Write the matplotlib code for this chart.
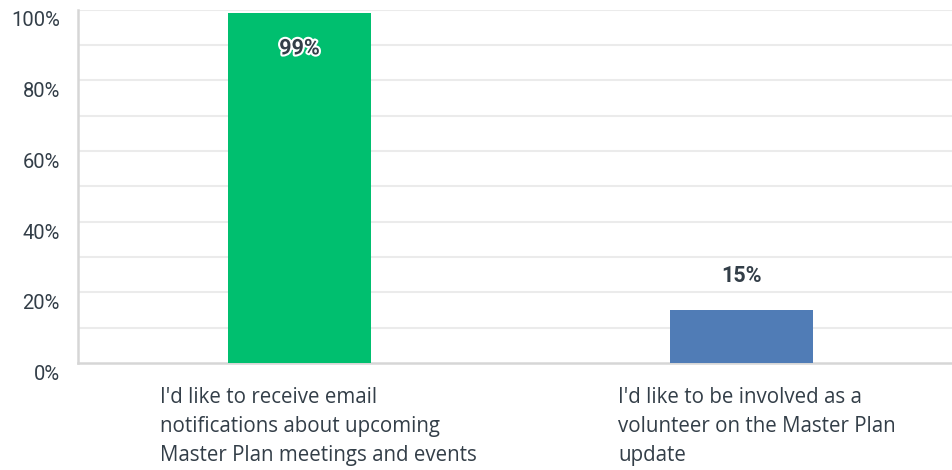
import matplotlib.pyplot as plt
import matplotlib.patheffects as pe
from matplotlib.transforms import blended_transform_factory

categories = [
    "I'd like to receive email\nnotifications about upcoming\nMaster Plan meetings and events",
    "I'd like to be involved as a\nvolunteer on the Master Plan\nupdate",
]
values = [99, 15]
labels = ["99%", "15%"]
bar_colors = ["#00bf6f", "#507cb6"]
yticks = [0, 20, 40, 60, 80, 100]
ytick_labels = ["0%", "20%", "40%", "60%", "80%", "100%"]

text_color = "#333e48"
grid_color = "#ebebeb"
axis_color = "#d6d6d6"

fig = plt.figure(figsize=(9.53, 4.70), dpi=100)
ax = fig.add_axes([78 / 953, 1 - 363 / 470, (953 - 78) / 953, (363 - 9.5) / 470])

x = list(range(len(values)))
ax.bar(x, values, width=0.324, color=bar_colors, zorder=3)

ax.set_xlim(-0.501, 1.479)
ax.set_ylim(0, 100)

for g in range(10, 101, 10):
    ax.axhline(g, color=grid_color, lw=1.5, zorder=1)

ax.set_yticks(yticks)
ax.set_yticklabels(ytick_labels, fontfamily="Roboto", fontsize=14.5, color=text_color,
                   va="top")
ax.tick_params(axis="y", length=0, pad=13)
ax.set_xticks([])
# nudge tick labels a bit below their gridline
for t in ax.get_yticklabels():
    t.set_transform(t.get_transform() + plt.matplotlib.transforms.ScaledTranslation(0, -2 / 100, fig.dpi_scale_trans))

for s in ["top", "right"]:
    ax.spines[s].set_visible(False)
ax.spines["left"].set_color(axis_color)
ax.spines["left"].set_linewidth(1.8)
ax.spines["bottom"].set_color(axis_color)
ax.spines["bottom"].set_linewidth(1.8)

# value labels
ax.text(0, values[0] - 10, labels[0], ha="center", va="center", fontfamily="Roboto",
        fontsize=15.5, fontweight="bold", color=text_color, zorder=5,
        path_effects=[pe.withStroke(linewidth=3, foreground="white")])
ax.text(1, values[1] + 9.7, labels[1], ha="center", va="center", fontfamily="Roboto",
        fontsize=15.5, fontweight="bold", color=text_color, zorder=5)

# category labels, left aligned below the axis
trans = blended_transform_factory(ax.transData, ax.transAxes)
label_offsets = [-0.316, -0.279]
for i, cat in enumerate(categories):
    ax.text(i + label_offsets[i], -0.068, cat, transform=trans, ha="left", va="top",
            fontfamily="Open Sans", fontsize=14.8, color=text_color, linespacing=1.5)

fig.savefig("out.png", dpi=100)
